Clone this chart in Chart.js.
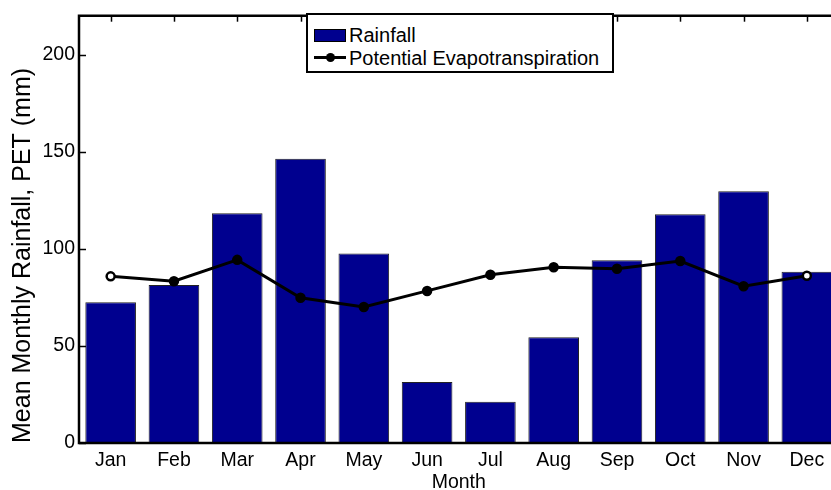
<!DOCTYPE html>
<html>
<head>
<meta charset="utf-8">
<script src="https://cdn.jsdelivr.net/npm/chart.js@4.4.1/dist/chart.umd.min.js"></script>
<style>
    html, body { margin: 0; padding: 0; background: #fff; overflow: hidden; }
    #wrap { position: relative; width: 831px; height: 490px; overflow: hidden; }
    #rainChart { position: absolute; left: 0; top: 0; }
    #legend {
        position: absolute; left: 306px; top: 13px; width: 304px; height: 56px;
        border: 2px solid #000; background: #fff;
        font-family: "Liberation Sans", Arial, sans-serif; font-size: 20px; color: #000;
    }
    .row { position: absolute; left: 6px; height: 24px; line-height: 24px; white-space: nowrap; }
    .swatch { position: absolute; left: 0; top: 6px; width: 30px; height: 11px; background: #00008f; border: 1px solid #000; }
    .lineSample { position: absolute; left: 0; top: 10px; width: 32px; height: 3px; background: #000; }
    .dot { position: absolute; left: 12px; top: 7px; width: 9px; height: 9px; border-radius: 50%; background: #000; }
    .label { position: absolute; left: 35px; top: 0; }
</style>
</head>
<body>
<div id="wrap">
    <canvas id="rainChart" width="845" height="494"></canvas>
    <div id="legend">
        <div class="row" style="top:8px"><span class="swatch"></span><span class="label">Rainfall</span></div>
        <div class="row" style="top:31px"><span class="lineSample"></span><span class="dot"></span><span class="label">Potential Evapotranspiration</span></div>
    </div>
</div>
<script>
// Monthly values (mm)
const months = ['Jan', 'Feb', 'Mar', 'Apr', 'May', 'Jun', 'Jul', 'Aug', 'Sep', 'Oct', 'Nov', 'Dec'];
const rainfall = [72.5, 81.3, 118.3, 146.4, 97.6, 31.4, 21.2, 54.5, 94.1, 117.8, 129.6, 88.2];
const pet = [85.8, 83.3, 94.3, 74.8, 70.0, 78.3, 86.6, 90.5, 89.7, 93.7, 80.7, 86.1];
const yTicks = [0, 50, 100, 150, 200];

const fontFamily = '"Liberation Sans", Arial, sans-serif';

// end markers show as open circles, the others are covered by the line
const petMarkerFill = months.map((m, i) => (i === 0 || i === months.length - 1) ? '#fff' : '#000');

// Draws the MATLAB style box and inward ticks on top of the bars
const axesBox = {
    id: 'axesBox',
    afterDatasetsDraw(chart) {
        const { ctx, chartArea, scales } = chart;
        const { left, right, top, bottom } = chartArea;
        ctx.save();
        ctx.strokeStyle = '#000';
        ctx.lineWidth = 1.5;
        // top ticks at each month
        months.forEach((m, i) => {
            const x = Math.round(scales.x.getPixelForValue(i)) + 0.5;
            ctx.beginPath();
            ctx.moveTo(x, top);
            ctx.lineTo(x, top + 6);
            ctx.stroke();
        });
        // left ticks
        yTicks.forEach((v) => {
            const y = Math.round(scales.y.getPixelForValue(v)) + 0.5;
            ctx.beginPath();
            ctx.moveTo(left, y);
            ctx.lineTo(left + 7, y);
            ctx.stroke();
        });
        // box lines
        ctx.lineWidth = 2.5;
        ctx.beginPath();
        ctx.moveTo(right + 2, top);
        ctx.lineTo(left, top);
        ctx.lineTo(left, bottom);
        ctx.lineTo(right + 2, bottom);
        ctx.stroke();
        ctx.restore();
    }
};

const ctx = document.getElementById('rainChart').getContext('2d');
new Chart(ctx, {
    data: {
        labels: months,
        datasets: [
            {
                type: 'line',
                label: 'Potential Evapotranspiration',
                data: pet,
                borderColor: '#000',
                borderWidth: 3,
                tension: 0,
                pointRadius: 4,
                pointBorderWidth: 2.5,
                pointBorderColor: '#000',
                pointBackgroundColor: petMarkerFill,
                order: 0
            },
            {
                type: 'bar',
                label: 'Rainfall',
                data: rainfall,
                backgroundColor: '#00008f',
                borderColor: '#222',
                borderWidth: 1,
                barPercentage: 0.8,
                categoryPercentage: 1.0,
                order: 1
            }
        ]
    },
    options: {
        responsive: false,
        animation: false,
        devicePixelRatio: 1,
        layout: { padding: { top: 10, right: 4, left: 0, bottom: 0 } },
        plugins: {
            legend: { display: false },
            tooltip: { enabled: false }
        },
        scales: {
            x: {
                offset: true,
                grid: { display: false, drawTicks: false },
                border: { display: false },
                ticks: {
                    color: '#000',
                    padding: 6,
                    maxRotation: 0,
                    autoSkip: false,
                    font: { family: fontFamily, size: 19.5 }
                },
                title: {
                    display: true,
                    text: 'Month',
                    color: '#000',
                    padding: { top: 0, bottom: 0 },
                    font: { family: fontFamily, size: 19.5 }
                },
                afterFit(scale) { scale.height = 51; }
            },
            y: {
                min: 0,
                max: 220,
                grid: { display: false, drawTicks: false },
                border: { display: false },
                afterBuildTicks(scale) { scale.ticks = yTicks.map(v => ({ value: v })); },
                ticks: {
                    color: '#000',
                    padding: 4,
                    font: { family: fontFamily, size: 19.5 }
                },
                title: {
                    display: true,
                    text: 'Mean Monthly Rainfall, PET (mm)',
                    align: 'start',
                    color: '#000',
                    padding: { top: 8, bottom: 0 },
                    font: { family: fontFamily, size: 25 }
                },
                afterFit(scale) { scale.width = 79; }
            }
        }
    },
    plugins: [axesBox]
});
</script>
</body>
</html>
